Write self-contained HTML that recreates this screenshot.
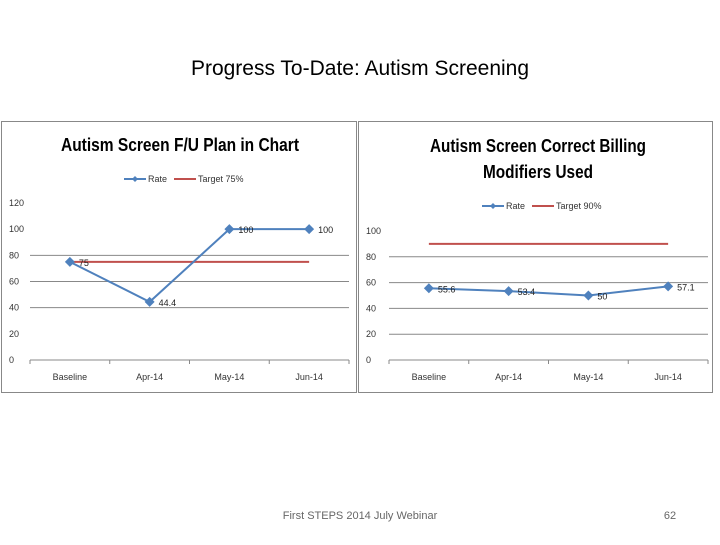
<!DOCTYPE html>
<html><head><meta charset="utf-8"><style>
body{margin:0;width:720px;height:540px;background:#fff;overflow:hidden;font-family:"Liberation Sans",sans-serif}
</style></head><body>
<svg width="720" height="540" xmlns="http://www.w3.org/2000/svg">
<text x="360" y="75" text-anchor="middle" font-size="21" fill="#000">Progress To-Date: Autism Screening</text>
<rect x="1.5" y="121.5" width="355" height="271" fill="#fff" stroke="#888"/>
<rect x="358.5" y="121.5" width="354" height="271" fill="#fff" stroke="#888"/>
<g id="c1"></g>
<g id="c2"></g>
<text x="360" y="519" text-anchor="middle" font-size="11" fill="#666">First STEPS 2014 July Webinar</text>
<text x="670" y="519" text-anchor="middle" font-size="11" fill="#666">62</text>
</svg>
<script>
const categories=["Baseline","Apr-14","May-14","Jun-14"];
const rate1=[75,44.4,100,100];
const labels1=["75","44.4","100","100"];
const target1=75;
const ticks1=[0,20,40,60,80,100,120];
const grid1=[40,60,80];
const rate2=[55.6,53.4,50,57.1];
const labels2=["55.6","53.4","50","57.1"];
const target2=90;
const ticks2=[0,20,40,60,80,100];
const grid2=[20,40,60,80];
const NS="http://www.w3.org/2000/svg";
function mk(g,tag,a,txt){const e=document.createElementNS(NS,tag);for(const k in a)e.setAttribute(k,a[k]);if(txt!=null)e.textContent=txt;g.appendChild(e);return e;}
function draw(gid,cfg){
  const g=document.getElementById(gid);
  const x0=cfg.x0,x1=cfg.x1,yb=cfg.yb,yt=cfg.yt,max=cfg.max;
  const step=(x1-x0)/categories.length;
  const X=i=>x0+step*(i+0.5);
  const Y=v=>yb-(v/max)*(yb-yt);
  cfg.title.forEach((t,i)=>{const e=mk(g,'text',{x:cfg.cx,y:cfg.ty+i*26,'text-anchor':'middle','font-size':18,'font-weight':'bold',fill:'#000',textLength:cfg.tlen[i],lengthAdjust:'spacingAndGlyphs'},t);
    
    });
  const ly=cfg.ly,lx=cfg.lx;
  let e=mk(g,'line',{x1:lx,y1:ly,x2:lx+22,y2:ly,stroke:'#4f81bd','stroke-width':2});
  
  mk(g,'path',{d:`M${lx+11} ${ly-3}l3 3l-3 3l-3 -3z`,fill:'#4f81bd'});
  mk(g,'text',{x:lx+24,y:ly+3,'font-size':9,fill:'#333'},'Rate');
  e=mk(g,'line',{x1:lx+50,y1:ly,x2:lx+72,y2:ly,stroke:'#c0504d','stroke-width':2});
  
  mk(g,'text',{x:lx+74,y:ly+3,'font-size':9,fill:'#333'},cfg.tname);
  cfg.grid.forEach(v=>{const l=mk(g,'line',{x1:x0,y1:Y(v),x2:x1,y2:Y(v),stroke:'#888','stroke-width':1});
    });
  e=mk(g,'line',{x1:x0,y1:yb,x2:x1,y2:yb,stroke:'#888'});
  
  for(let i=0;i<=categories.length;i++)mk(g,'line',{x1:x0+step*i,y1:yb,x2:x0+step*i,y2:yb+4,stroke:'#888'});
  cfg.ticks.forEach(v=>{const t=mk(g,'text',{x:cfg.tx,y:Y(v)+3,'font-size':9,fill:'#333','text-anchor':'start'},String(v));
    });
  categories.forEach((c,i)=>{const t=mk(g,'text',{x:X(i),y:yb+20,'font-size':9,fill:'#333','text-anchor':'middle'},c);
    });
  e=mk(g,'line',{x1:X(0),y1:Y(cfg.target),x2:X(categories.length-1),y2:Y(cfg.target),stroke:'#c0504d','stroke-width':2});
  
  e=mk(g,'polyline',{points:cfg.rate.map((v,i)=>X(i)+','+Y(v)).join(' '),fill:'none',stroke:'#4f81bd','stroke-width':2});
  
  cfg.rate.forEach((v,i)=>{const p=mk(g,'path',{d:`M${X(i)} ${Y(v)-5}l5 5l-5 5l-5 -5z`,fill:'#4f81bd'});
    
    const t=mk(g,'text',{x:X(i)+9,y:Y(v)+4,'font-size':9,fill:'#222'},cfg.labels[i]);
    });
}
draw('c1',{x0:30,x1:349,yb:360,yt:203,max:120,cx:180,ty:151,tlen:[238],title:["Autism Screen F/U Plan in Chart"],lx:124,ly:179,tname:"Target 75%",grid:grid1,ticks:ticks1,tx:9,target:target1,rate:rate1,labels:labels1});
draw('c2',{x0:389,x1:708,yb:360,yt:231,max:100,cx:538,ty:152,tlen:[216,110],title:["Autism Screen Correct Billing","Modifiers Used"],lx:482,ly:206,tname:"Target 90%",grid:grid2,ticks:ticks2,tx:366,target:target2,rate:rate2,labels:labels2});
</script>
</body></html>
